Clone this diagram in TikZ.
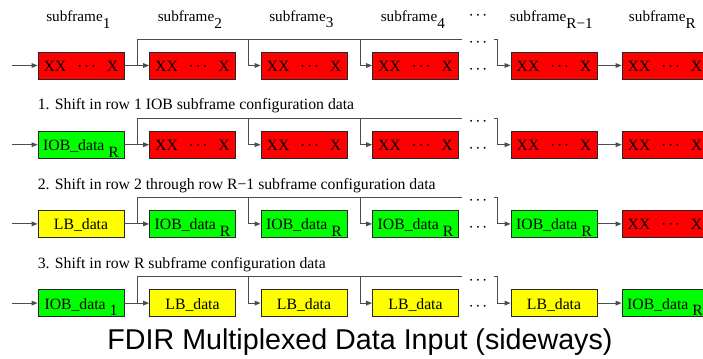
\documentclass[tikz,border=0pt]{standalone}
\usepackage{fontspec}
\setmainfont{Liberation Serif}
\newfontfamily\headfont{Liberation Sans}
\usetikzlibrary{arrows.meta,positioning}
\definecolor{cellred}{RGB}{255,0,0}
\definecolor{cellgreen}{RGB}{0,255,0}
\definecolor{cellyellow}{RGB}{255,255,0}
\newcommand{\lowered}[1]{\raisebox{-5pt}{#1}}
\newcommand{\dotrow}{\textperiodcentered\kern1.2pt\textperiodcentered\kern1.2pt\textperiodcentered}

\begin{document}
\begin{tikzpicture}[x=0.75pt, y=-0.75pt,
    font=\fontsize{11.8}{14}\selectfont,
    cell/.style={draw=black!85, line width=0.6pt, minimum width=64.5pt, minimum height=20.25pt,
      inner sep=0pt, text height=11pt, text depth=2pt},
    xxcell/.style={cell, fill=cellred, node contents={\makebox[56pt]{XX\hfill\dotrow\hfill X}}},
    iobR/.style={cell, fill=cellgreen, node contents={IOB\_data \lowered{R}}},
    iobone/.style={cell, fill=cellgreen, node contents={IOB\_data \lowered{1}}},
    lbcell/.style={cell, fill=cellyellow, node contents={LB\_data}},
    wire/.style={draw=black!70, line width=0.7pt},
    arr/.style={wire, -{Triangle[length=4.5pt, width=3.5pt]}},
    gap/.style={inner xsep=4.8pt, inner ysep=0pt, text height=12.8pt, text depth=0pt},
    sflabel/.style={font=\fontsize{11.4}{14}\selectfont, inner sep=0pt},
    caption/.style={inner sep=0pt}]

    \useasboundingbox (0,0) rectangle (703,358);
    \clip (0,0) rectangle (703,358);

    % four shift stages, one row of subframe registers each
    \foreach \r/\kinds in {1/{xxcell,xxcell,xxcell,xxcell,xxcell,xxcell},
                           2/{iobR,xxcell,xxcell,xxcell,xxcell,xxcell},
                           3/{lbcell,iobR,iobR,iobR,iobR,xxcell},
                           4/{iobone,lbcell,lbcell,lbcell,lbcell,iobR}} {
        \pgfmathsetmacro\ry{65.5+79.2*(\r-1)}
        \pgfmathsetmacro\by{\ry-26.5}
        \foreach \k [count=\c] in \kinds {
            \pgfmathsetmacro\cx{{81,192.5,304,415.5,554,665}[\c-1]}
            \node (b\r-\c) at (\cx,\ry) [\k];
        }

        \coordinate (in\r) at (12,\ry);
        \coordinate (fork\r) at (137,\ry);
        \coordinate (turn\r) at (497,\ry);
        \coordinate (tap\r-3) at (248,\by);
        \coordinate (tap\r-4) at (360,\by);
        \node[gap] (busgap\r) at (478,\by) {\dotrow};
        \node[gap] (rowgap\r) at (478,\ry) {\dotrow};

        \draw[arr] (in\r) -- (b\r-1);
        \draw[arr] (b\r-1) -- (b\r-2);
        \draw[wire] (fork\r) |- (busgap\r.west);
        \draw[arr] (tap\r-3) |- (b\r-3);
        \draw[arr] (tap\r-4) |- (b\r-4);
        \draw[arr] (busgap\r.east) -| (turn\r) -- (b\r-5);
        \draw[arr] (b\r-5) -- (b\r-6);
    }

    % column heads
    \foreach \c/\s in {1/1,2/2,3/3,4/4,5/R−1,6/R}
        \node[sflabel, above=17.5pt of b1-\c, xshift=-2pt] (sf\c) {subframe\lowered{\s}};
    \node[gap] (sfdots) at (478,12) {\dotrow};

    % stage captions
    \node[caption, above right=13pt and 0pt of b2-1.north west] (cap1)
        {1. Shift in row 1 IOB subframe configuration data};
    \node[caption, above right=13pt and 0pt of b3-1.north west] (cap2)
        {2. Shift in row 2 through row R−1 subframe configuration data};
    \node[caption, above right=13pt and 0pt of b4-1.north west] (cap3)
        {3. Shift in row R subframe configuration data};

    \node[font=\headfont\fontsize{21.5}{26}\selectfont, anchor=base] (title) at (360,349)
        {FDIR Multiplexed Data Input (sideways)};
\end{tikzpicture}
\end{document}
